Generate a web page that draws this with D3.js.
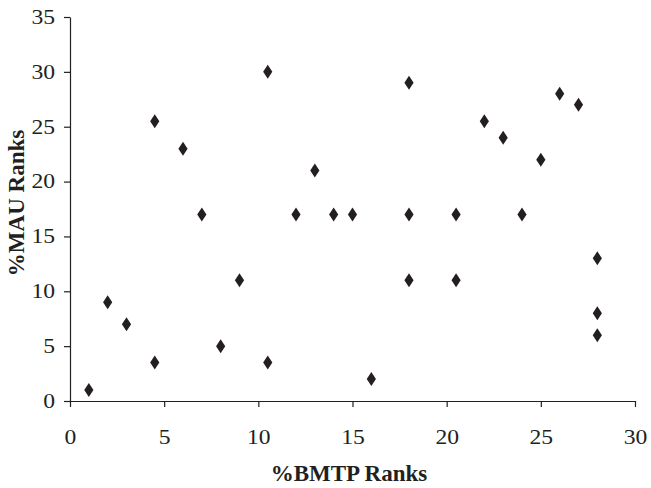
<!DOCTYPE html>
<html>
<head>
<meta charset="utf-8">
<script src="https://cdn.jsdelivr.net/npm/d3@7"></script>
<style>
  body { margin: 0; background: #fff; }
  svg { display: block; }
  .tick text { font-family: "Liberation Serif", "Times New Roman", serif; font-size: 20px; fill: #231f20; }
  .axis-title { font-family: "Liberation Serif", "Times New Roman", serif; font-size: 23px; font-weight: bold; fill: #231f20; }
</style>
</head>
<body>
<div id="chart"></div>
<script>
// %BMTP ranks (x) against %MAU ranks (y)
let bmtpRanks = [1, 2, 3, 4.5, 4.5, 6, 7, 8, 9, 10.5, 10.5, 12, 13, 14, 15, 16, 18, 18, 18, 20.5, 20.5, 22, 23, 24, 25, 26, 27, 28, 28, 28]
let mauRanks = [1, 9, 7, 3.5, 25.5, 23, 17, 5, 11, 30, 3.5, 17, 21, 17, 17, 2, 29, 17, 11, 17, 11, 25.5, 24, 17, 22, 28, 27, 13, 8, 6]

let xTicks = [0, 5, 10, 15, 20, 25, 30]
let yTicks = [0, 5, 10, 15, 20, 25, 30, 35]

let ink = "#231f20"
let stretch = 1.18  // tick digits in the original look a bit wide

let width = 651, height = 488
let margin = { top: 17, right: 16, bottom: 87, left: 70 }

let svg = d3.select("#chart")
    .append("svg")
    .attr("width", width)
    .attr("height", height)

let x = d3.scaleLinear()
    .domain([0, 30])
    .range([margin.left, width - margin.right])

let y = d3.scaleLinear()
    .domain([0, 35])
    .range([height - margin.bottom, margin.top])

let points = bmtpRanks.map((d, i) => ({ x: d, y: mauRanks[i] }))

// axes
let xAxis = svg.append("g")
    .attr("transform", `translate(0,${y(0)})`)
    .call(d3.axisBottom(x).tickValues(xTicks).tickSize(6).tickSizeOuter(0).tickPadding(23))

xAxis.selectAll(".tick text")
    .attr("transform", `scale(${stretch},1)`)

let yAxis = svg.append("g")
    .attr("transform", `translate(${x(0)},0)`)
    .call(d3.axisLeft(y).tickValues(yTicks).tickSize(6).tickSizeOuter(0).tickPadding(9))

yAxis.selectAll(".tick text")
    .attr("x", -15 / stretch)
    .attr("transform", `scale(${stretch},1)`)

svg.selectAll(".domain, .tick line")
    .attr("stroke", ink)
    .attr("stroke-width", 1.2)

// diamond markers
let diamond = "M0,-7 L4.6,0 L0,7 L-4.6,0 Z"

svg.append("g")
    .selectAll("path")
    .data(points)
    .join("path")
    .attr("d", diamond)
    .attr("transform", d => `translate(${x(d.x)},${y(d.y)})`)
    .attr("fill", ink)

// titles
svg.append("text")
    .attr("class", "axis-title")
    .attr("x", 349)
    .attr("y", 481)
    .attr("text-anchor", "middle")
    .text("%BMTP Ranks")

svg.append("text")
    .attr("class", "axis-title")
    .attr("transform", "translate(24,203) rotate(-90)")
    .attr("text-anchor", "middle")
    .text("%MAU Ranks")
</script>
</body>
</html>
